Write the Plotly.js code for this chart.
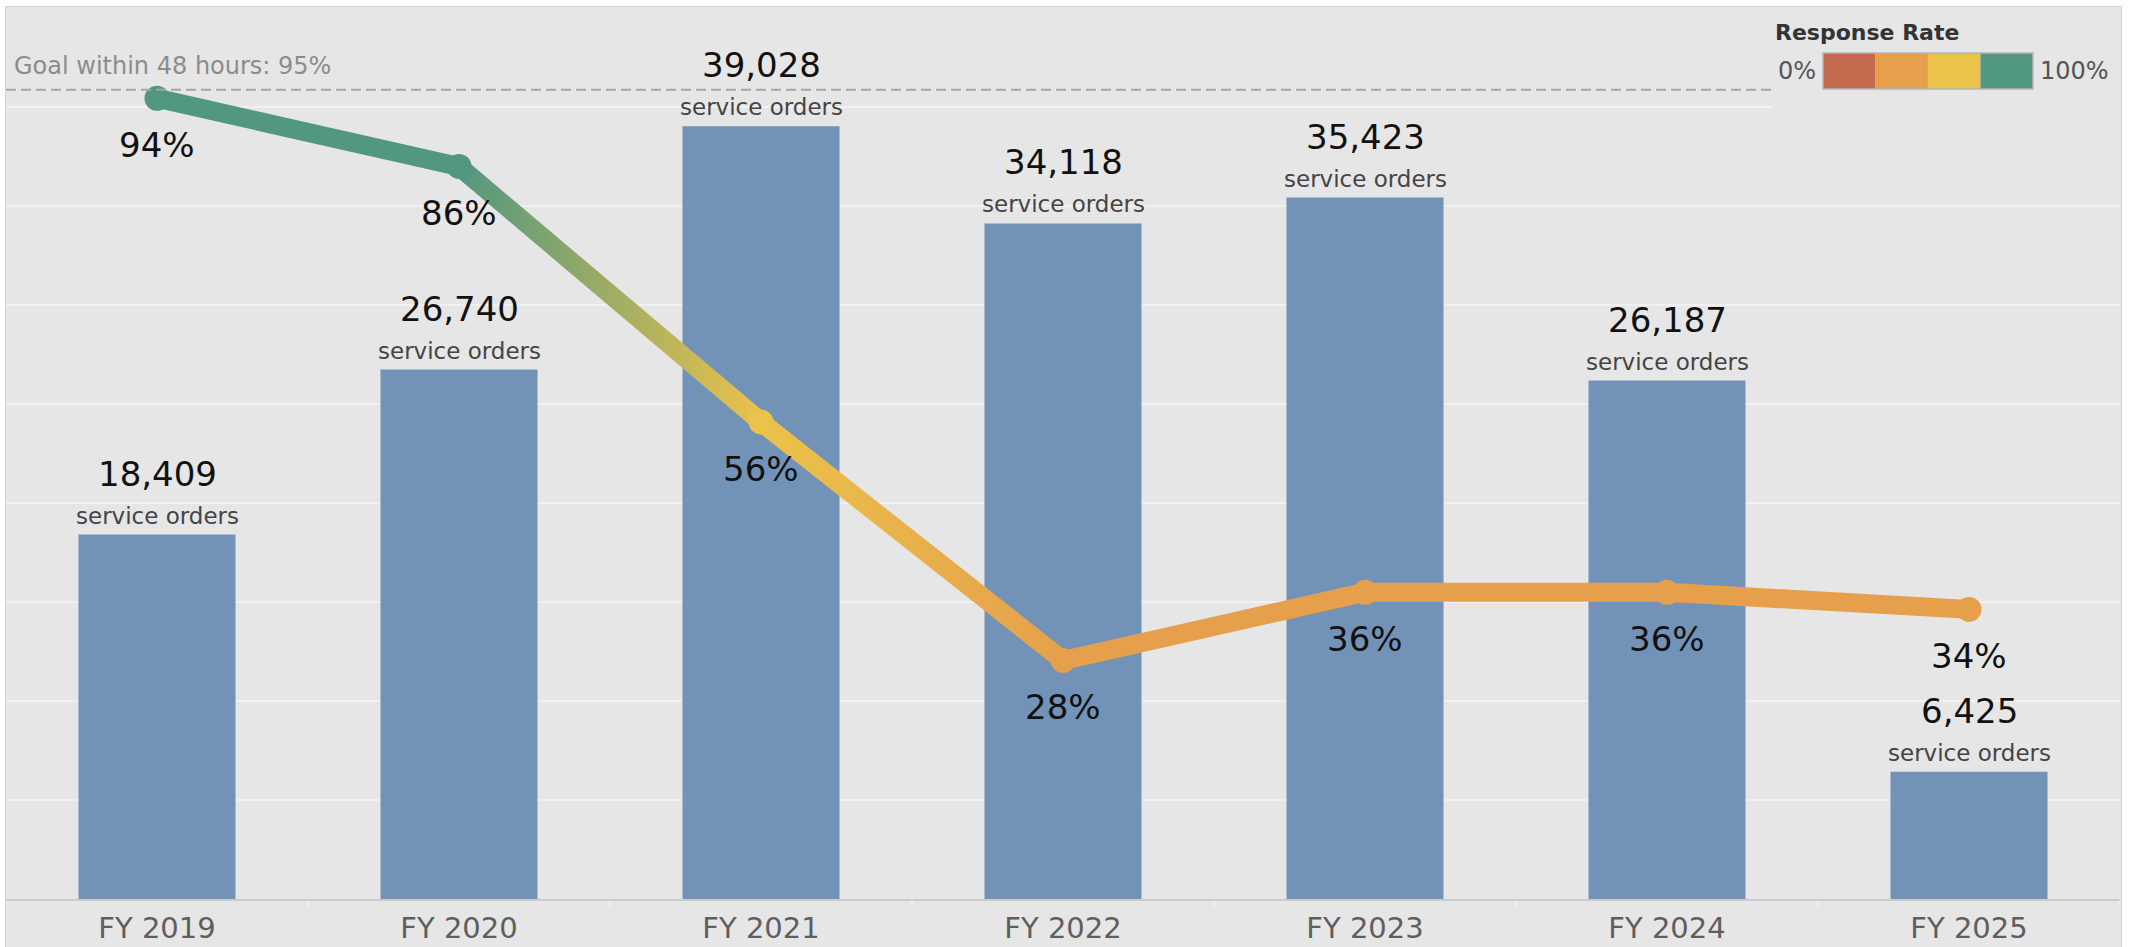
<!DOCTYPE html>
<html>
<head>
<meta charset="utf-8">
<script src="https://cdn.plot.ly/plotly-3.0.1.min.js"></script>
<style>
  html, body { margin: 0; padding: 0; background: #ffffff; width: 2131px; height: 947px; overflow: hidden; }
  #frame { position: absolute; left: 5px; top: 6px; width: 2115px; height: 941px; border-left: 1px solid #d2d2d2; border-top: 1px solid #d2d2d2; border-right: 1px solid #d2d2d2; background: #e6e6e6; }
  #chart { position: absolute; left: 0px; top: 0px; width: 2114px; height: 941px; }
</style>
</head>
<body>
<div id="frame"><div id="chart"></div></div>
<script>
// ---- data ----
const FISCAL_YEARS = ['FY 2019', 'FY 2020', 'FY 2021', 'FY 2022', 'FY 2023', 'FY 2024', 'FY 2025'];
const SERVICE_ORDERS = [18409, 26740, 39028, 34118, 35423, 26187, 6425];
const RESPONSE_RATE = [94, 86, 56, 28, 36, 36, 34];          // percent within 48 hours
const GOAL_RATE = 95;
const GOAL_LABEL = 'Goal within 48 hours: 95%';
const RATE_BIN_EDGES = [0, 25, 50, 75, 100];
const RATE_BIN_COLORS = ['#c46a4e', '#e6a04c', '#ebc24a', '#52977f'];
const LEGEND_TITLE = 'Response Rate';
const LEGEND_MIN_LABEL = '0%';
const LEGEND_MAX_LABEL = '100%';
const BAR_UNIT_LABEL = 'service orders';

// ---- styling ----
const FONT = 'DejaVu Sans, Verdana, sans-serif';
const BAR_COLOR = '#7293b7';
const BG = '#e6e6e6';

function rateColor(v) {
  for (let i = RATE_BIN_COLORS.length - 1; i >= 0; i--) {
    if (v >= RATE_BIN_EDGES[i]) return RATE_BIN_COLORS[i];
  }
  return RATE_BIN_COLORS[0];
}

const barTrace = {
  type: 'bar',
  x: FISCAL_YEARS,
  y: SERVICE_ORDERS,
  marker: { color: BAR_COLOR, line: { width: 0 } },
  width: 0.52,
  hoverinfo: 'skip',
  yaxis: 'y'
};

const lineTrace = {
  type: 'scatter',
  mode: 'lines+markers',
  x: FISCAL_YEARS,
  y: RESPONSE_RATE,
  yaxis: 'y2',
  line: { color: rateColor(RESPONSE_RATE[0]), width: 19 },
  marker: { size: 25, color: RESPONSE_RATE.map(rateColor), line: { width: 0 } },
  hoverinfo: 'skip'
};

const annotations = [];
FISCAL_YEARS.forEach((fy, i) => {
  annotations.push({
    x: fy, y: SERVICE_ORDERS[i], xref: 'x', yref: 'y',
    text: SERVICE_ORDERS[i].toLocaleString('en-US'),
    showarrow: false, yanchor: 'middle', xanchor: 'center', yshift: 61,
    font: { family: FONT, size: 34, color: '#111111' }
  });
  annotations.push({
    x: fy, y: SERVICE_ORDERS[i], xref: 'x', yref: 'y',
    text: BAR_UNIT_LABEL,
    showarrow: false, yanchor: 'middle', xanchor: 'center', yshift: 19,
    font: { family: FONT, size: 23, color: '#444444' }
  });
  annotations.push({
    x: fy, y: RESPONSE_RATE[i], xref: 'x', yref: 'y2',
    text: RESPONSE_RATE[i] + '%',
    showarrow: false, yanchor: 'middle', xanchor: 'center', yshift: -47,
    font: { family: FONT, size: 34, color: '#111111' }
  });
});

// goal label
annotations.push({
  x: 0.003, xref: 'paper', xanchor: 'left',
  y: GOAL_RATE, yref: 'y2', yanchor: 'middle', yshift: 24,
  text: GOAL_LABEL, showarrow: false,
  font: { family: FONT, size: 24, color: '#8c8c8c' }
});

// legend texts (paper coordinates of the floating legend box)
const LEG = { x0: 0.8354, cellX0: 0.8595, cellW: 0.02483, cellY0: 0.9090, cellY1: 0.9494 };
annotations.push({
  x: LEG.x0 + 0.0005, xref: 'paper', xanchor: 'left', y: 0.973, yref: 'paper', yanchor: 'middle',
  text: '<b>' + LEGEND_TITLE + '</b>', showarrow: false,
  font: { family: FONT, size: 22, color: '#333333' }
});
annotations.push({
  x: LEG.cellX0 - 0.0025, xref: 'paper', xanchor: 'right', y: (LEG.cellY0 + LEG.cellY1) / 2, yref: 'paper', yanchor: 'middle',
  text: LEGEND_MIN_LABEL, showarrow: false,
  font: { family: FONT, size: 24, color: '#555555' }
});
annotations.push({
  x: LEG.cellX0 + LEG.cellW * RATE_BIN_COLORS.length + 0.0025, xref: 'paper', xanchor: 'left', y: (LEG.cellY0 + LEG.cellY1) / 2, yref: 'paper', yanchor: 'middle',
  text: LEGEND_MAX_LABEL, showarrow: false,
  font: { family: FONT, size: 24, color: '#555555' }
});

const shapes = [
  { type: 'line', xref: 'paper', x0: 0, x1: 1, yref: 'y2', y0: GOAL_RATE, y1: GOAL_RATE,
    line: { color: '#a6a6a6', width: 2, dash: '10px,5px' }, layer: 'above' },
  { type: 'rect', xref: 'paper', x0: LEG.x0, x1: 1, yref: 'paper', y0: 0.8764, y1: 1,
    fillcolor: BG, line: { width: 0 }, layer: 'above' }
];
RATE_BIN_COLORS.forEach((c, i) => {
  shapes.push({
    type: 'rect', xref: 'paper', yref: 'paper',
    x0: LEG.cellX0 + LEG.cellW * i, x1: LEG.cellX0 + LEG.cellW * (i + 1),
    y0: LEG.cellY0, y1: LEG.cellY1,
    fillcolor: c, line: { width: 0 }, layer: 'above'
  });
});
shapes.push({
  type: 'rect', xref: 'paper', yref: 'paper',
  x0: LEG.cellX0, x1: LEG.cellX0 + LEG.cellW * RATE_BIN_COLORS.length,
  y0: LEG.cellY0, y1: LEG.cellY1,
  fillcolor: 'rgba(0,0,0,0)', line: { color: '#b5b5b5', width: 1.5 }, layer: 'above'
});

const layout = {
  width: 2114, height: 941,
  margin: { l: 0, r: 0, t: 1, b: 49, pad: 0 },
  paper_bgcolor: BG,
  plot_bgcolor: BG,
  showlegend: false,
  bargap: 0.48,
  xaxis: {
    type: 'category',
    range: [-0.5, FISCAL_YEARS.length - 0.5],
    showline: true, linecolor: '#cbcbcb', linewidth: 2,
    ticks: 'outside', tickson: 'boundaries', ticklen: 5, tickcolor: '#f3f3f3', tickwidth: 2,
    tickfont: { family: FONT, size: 29, color: '#5e5e5e' },
    ticklabelstandoff: 2,
    showgrid: false, zeroline: false, fixedrange: true
  },
  yaxis: {
    range: [0, 45000], dtick: 5000,
    showgrid: true, gridcolor: '#f1f1f1', gridwidth: 1.5,
    showticklabels: false, zeroline: false, showline: false, fixedrange: true
  },
  yaxis2: {
    overlaying: 'y', side: 'right',
    range: [0, 104.6],
    showgrid: false, showticklabels: false, zeroline: false, showline: false, fixedrange: true
  },
  annotations: annotations,
  shapes: shapes
};

const gd = document.getElementById('chart');
Plotly.newPlot(gd, [barTrace, lineTrace], layout, { displayModeBar: false, staticPlot: true }).then(() => {
  // colour the response-rate line along its length by each point's rate bin
  const svg = gd.querySelector('svg.main-svg');
  const ns = 'http://www.w3.org/2000/svg';
  let defs = svg.querySelector('defs');
  if (!defs) { defs = document.createElementNS(ns, 'defs'); svg.insertBefore(defs, svg.firstChild); }
  const grad = document.createElementNS(ns, 'linearGradient');
  grad.setAttribute('id', 'rateGradient');
  grad.setAttribute('gradientUnits', 'objectBoundingBox');
  grad.setAttribute('x1', '0'); grad.setAttribute('y1', '0');
  grad.setAttribute('x2', '1'); grad.setAttribute('y2', '0');
  RESPONSE_RATE.forEach((v, i) => {
    const stop = document.createElementNS(ns, 'stop');
    stop.setAttribute('offset', (i / (RESPONSE_RATE.length - 1)).toString());
    stop.setAttribute('stop-color', rateColor(v));
    grad.appendChild(stop);
  });
  defs.appendChild(grad);
  const paths = gd.querySelectorAll('.scatterlayer .trace path.js-line');
  paths.forEach(p => {
    p.style.stroke = 'url(#rateGradient)';
    p.style.strokeLinejoin = 'round';
    p.style.strokeLinecap = 'round';
  });
});
</script>
</body>
</html>
